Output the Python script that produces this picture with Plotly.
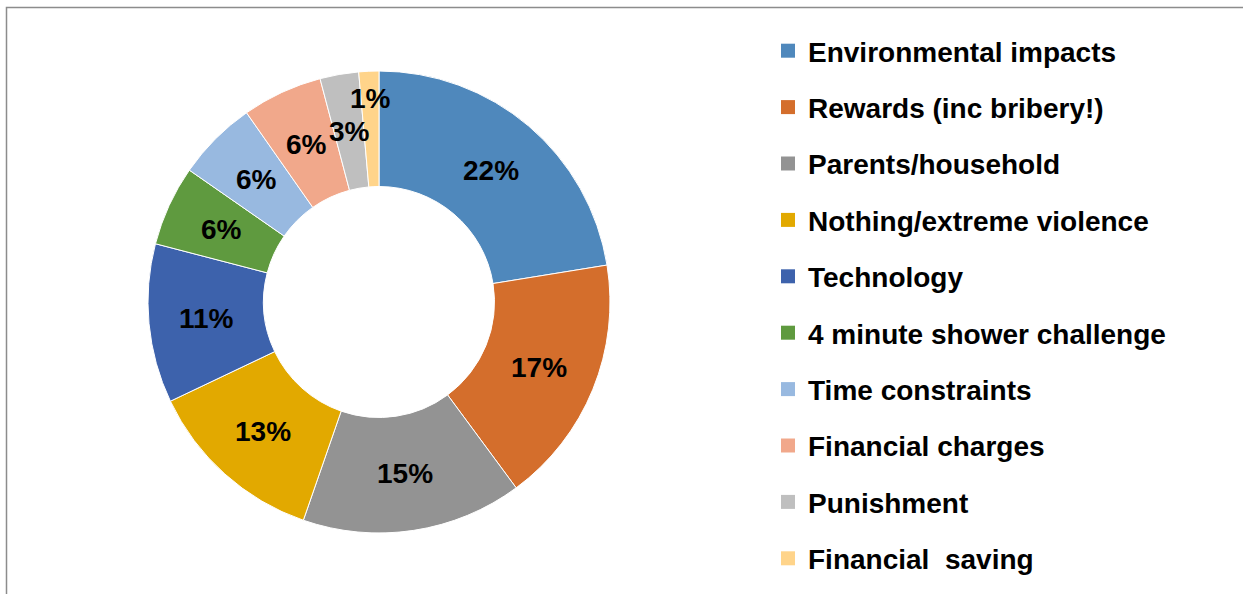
import math
import plotly.graph_objects as go

categories = [
    "Environmental impacts",
    "Rewards (inc bribery!)",
    "Parents/household",
    "Nothing/extreme violence",
    "Technology",
    "4 minute shower challenge",
    "Time constraints",
    "Financial charges",
    "Punishment",
    "Financial  saving",
]
values = [22.4, 17.4, 15.4, 12.6, 11.1, 5.6, 5.6, 5.6, 2.7, 1.4]
colors = ["#4F88BC", "#D46E2C", "#939393", "#E2A900", "#3D62AC",
          "#5F9A3F", "#98B9E0", "#F1A88B", "#BFBFBF", "#FFD48A"]

W, H = 1243, 594
FONT = "Liberation Sans, Arial, sans-serif"

# pie placement (pixels)
PIE_L, PIE_R, PIE_T, PIE_B = 148, 610, 71, 533
HOLE = 0.5

fig = go.Figure()
fig.add_trace(go.Pie(
    labels=categories,
    values=values,
    hole=HOLE,
    sort=False,
    direction="clockwise",
    rotation=0,
    marker=dict(colors=colors, line=dict(color="white", width=1)),
    textinfo="none",
    showlegend=False,
    domain=dict(x=[PIE_L / W, PIE_R / W], y=[1 - PIE_B / H, 1 - PIE_T / H]),
))

# percentage labels placed at the middle of the ring, from the slice angles
cx = (PIE_L + PIE_R) / 2
cy = (PIE_T + PIE_B) / 2
R = (PIE_R - PIE_L) / 2
total = sum(values)
cum = 0.0
annotations = []
for v in values:
    frac = (cum + v / 2) / total
    cum += v
    share = v / total
    rr = R * ((1 + HOLE) / 2 if share >= 0.02 else 0.883)
    ang = 2 * math.pi * frac
    px = cx + rr * math.sin(ang)
    py = cy - rr * math.cos(ang)
    annotations.append(dict(
        x=px / W, y=1 - py / H, xref="paper", yref="paper",
        text=f"{share * 100:.0f}%", showarrow=False,
        xanchor="center", yanchor="middle",
        font=dict(family=FONT, size=28, color="black", weight="bold"),
    ))

# legend entries (one per category, spaced like the original)
for i, (c, col) in enumerate(zip(categories, colors)):
    fig.add_trace(go.Scatter(
        x=[None], y=[None], mode="markers", name=c,
        legendgroup=f"g{i}",
        marker=dict(symbol="square", size=14, color=col),
        hoverinfo="skip",
    ))

fig.update_layout(
    width=W, height=H,
    margin=dict(l=0, r=0, t=0, b=0),
    paper_bgcolor="white", plot_bgcolor="white",
    xaxis=dict(visible=False), yaxis=dict(visible=False),
    annotations=annotations,
    legend=dict(
        x=768 / W, y=1 - 26 / H, xanchor="left", yanchor="top",
        traceorder="grouped", tracegroupgap=17,
        font=dict(family=FONT, size=28, color="black", weight="bold"),
        bgcolor="rgba(0,0,0,0)",
    ),
    shapes=[dict(type="rect", xref="paper", yref="paper",
                 x0=6.5 / W, x1=1.05, y0=-0.05, y1=1 - 7.5 / H,
                 line=dict(color="#8C8C8C", width=1.5), layer="below")],
)

fig.write_html("out.html", config={"displayModeBar": False},
               post_script="document.body.style.margin='0px';")
